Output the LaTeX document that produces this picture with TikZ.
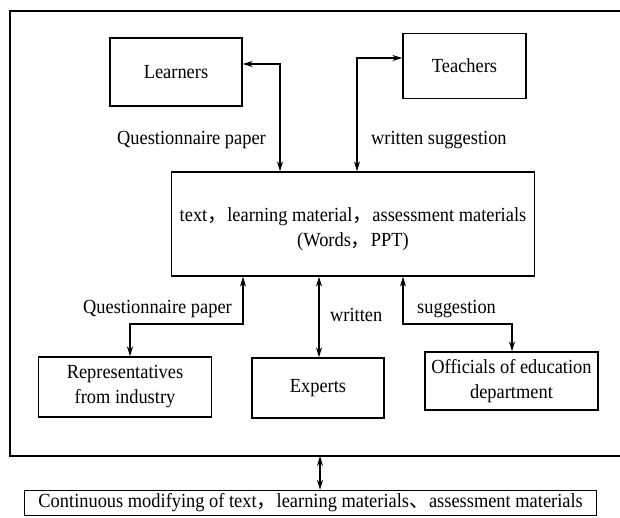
\documentclass[tikz,border=0pt]{standalone}
\usepackage{fontspec}
\setmainfont{Liberation Serif}[FakeStretch=0.92]
\newfontfamily\cjk{Noto Sans CJK SC}
\usetikzlibrary{arrows.meta}
\newcommand{\zc}{{\cjk ，}}
\newcommand{\zd}{{\cjk 、}}
\begin{document}
\begin{tikzpicture}[x=1pt,y=-1pt,
  txt/.style={font=\fontsize{20}{25}\selectfont},
  box/.style={txt,draw,line width=1.3pt,inner sep=0pt,align=center},
  lbl/.style={txt,inner sep=0pt},
  both/.style={line width=1.3pt,{Stealth[length=10pt,width=6pt]}-{Stealth[length=10pt,width=6pt]}}]
\useasboundingbox (0,0) rectangle (620,517);
\clip (0,0) rectangle (620,517);
% outer frame (its right side runs past the page edge)
\draw[line width=1.3pt] (640,11) -- (10,11) -- (10,456) -- (640,456);
% boxes
\node[box,minimum width=132pt,minimum height=68pt] (learn) at (176,72) {Learners};
\node[box,minimum width=123pt,minimum height=65pt] (teach) at (464.5,66) {Teachers};
\node[box,minimum width=363pt,minimum height=104pt] (core) at (353,224)
  {\rule{0pt}{24pt}text\zc learning material\zc assessment materials\\(Words\zc PPT)};
\node[box,minimum width=173pt,minimum height=60pt] (rep) at (125,387) {Representatives\\from industry};
\node[box,minimum width=132pt,minimum height=60pt] (exp) at (318,388) {Experts};
\node[box,minimum width=173pt,minimum height=58pt] (off) at (511.5,381) {Officials of education\\department};
\node[box,minimum width=572pt,minimum height=25pt,anchor=south west] (mod) at (24,516)
  {Continuous modifying of text\zc learning materials\zd assessment materials};
\coordinate (fb) at (320,456);
% connectors
\draw[both] (learn.east|-0,64) -| (280,0|-core.north);
\draw[both] (teach.west|-0,58) -| (357,0|-core.north);
\draw[both] (243,0|-core.south) |- (130,324) -- (130,0|-rep.north);
\draw[both] (319,0|-core.south) -- (319,0|-exp.north);
\draw[both] (403,0|-core.south) |- (512,324) -- (512,0|-off.north);
\draw[both] (fb) -- (fb|-mod.north);
% labels
\node[lbl,anchor=east] (q1) at (266,140) {Questionnaire paper};
\node[lbl,anchor=west] (w1) at (371,140) {written suggestion};
\node[lbl,anchor=east] (q2) at (232,309) {Questionnaire paper};
\node[lbl,anchor=west] (w2) at (330,315) {written};
\node[lbl,anchor=west] (s2) at (417,309) {suggestion};
\end{tikzpicture}
\end{document}
